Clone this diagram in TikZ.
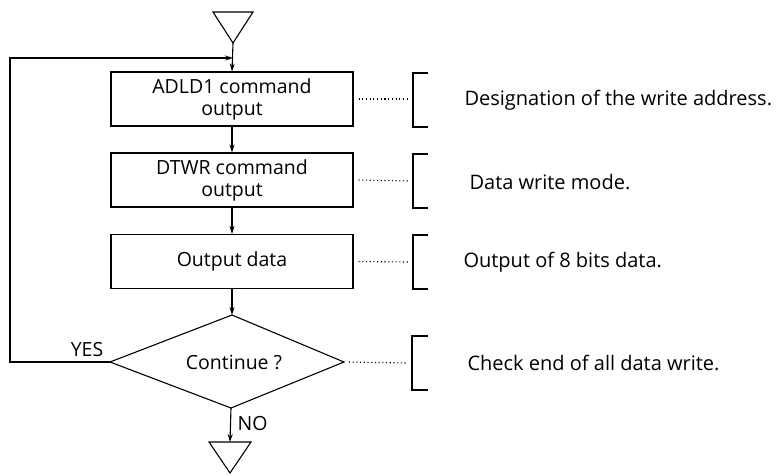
\documentclass[tikz,border=0pt]{standalone}
\usepackage{fontspec}
\setmainfont{Open Sans}
\usetikzlibrary{arrows.meta}
\begin{document}
\begin{tikzpicture}[x=1pt,y=-1pt, line width=1.1pt,
  proc/.style={draw, minimum width=242pt, minimum height=54pt, align=center, inner sep=0pt, font=\fontsize{19.5}{22}\selectfont},
  lbl/.style={font=\fontsize{19.5}{22}\selectfont, inner sep=0pt},
  note/.style={anchor=west, font=\fontsize{20}{22}\selectfont, inner sep=0pt},
  arr/.style={-{Stealth[length=8pt,width=5pt]}},
  dots/.style={line width=1.1pt, dash pattern=on 1.1pt off 2.6pt},
  brk/.style={line width=1.1pt}]
\useasboundingbox (0,0) rectangle (776,475);
% start triangle
\coordinate (sA) at (213,12); \coordinate (sB) at (253,12); \coordinate (st) at (233,43);
\draw (sA) -- (sB) -- (st) -- cycle;
% boxes
\node[proc] (b1) at (232,99) {ADLD1 command\\output};
\node[proc] (b2) at (232,180) {DTWR command\\output};
\node[proc] (b3) at (232,261.5) {Output data};
% decision
\coordinate (dT) at (232,315); \coordinate (dR) at (344,362);
\coordinate (dB) at (231,408); \coordinate (dL) at (110,362);
\draw (dT) -- (dR) -- (dB) -- (dL) -- cycle;
\node[lbl] (dc) at (234,362) {Continue ?};
% end triangle
\coordinate (eA) at (209,442); \coordinate (eB) at (251,442); \coordinate (et) at (230,473);
\draw (eA) -- (eB) -- (et) -- cycle;
\coordinate (eTop) at (230,442);
% flow
\coordinate (j) at (233,58);
\draw[arr] (st) -- (b1.north);
\draw[arr] (b1.south) -- (b2.north);
\draw[arr] (b2.south) -- (b3.north);
\draw[arr] (b3.south) -- (dT);
\draw[arr] (dB) -- (eTop);
\coordinate (lb) at (10,362); \coordinate (lt) at (10,58);
\draw[arr] (dL) -- (lb) -- (lt) -- (j);
\node[lbl] (yes) at (87,350) {YES};
\node[lbl, anchor=west] (no) at (237,424) {NO};
% annotations
\coordinate (k1) at (408,99); \coordinate (k2) at (408,181);
\coordinate (k3) at (408,262); \coordinate (k4) at (408,363);
\draw[dots] ([xshift=5pt]b1.east) -- (k1);
\draw[dots] ([xshift=5pt]b2.east) -- (k2);
\draw[dots] ([xshift=5pt]b3.east) -- (k3);
\draw[dots] ([xshift=5pt]dR) -- (k4);
\draw[brk] (428,73) -- (413,73) -- (413,127) -- (428,127);
\draw[brk] (428,154) -- (413,154) -- (413,208) -- (428,208);
\draw[brk] (428,235) -- (413,235) -- (413,289) -- (428,289);
\draw[brk] (428,336) -- (412,336) -- (412,390) -- (428,390);
\node[note] (n1) at (464,100) {Designation of the write address.};
\node[note] (n2) at (469,182) {Data write mode.};
\node[note] (n3) at (463,262) {Output of 8 bits data.};
\node[note] (n4) at (467,363) {Check end of all data write.};
\end{tikzpicture}
\end{document}
